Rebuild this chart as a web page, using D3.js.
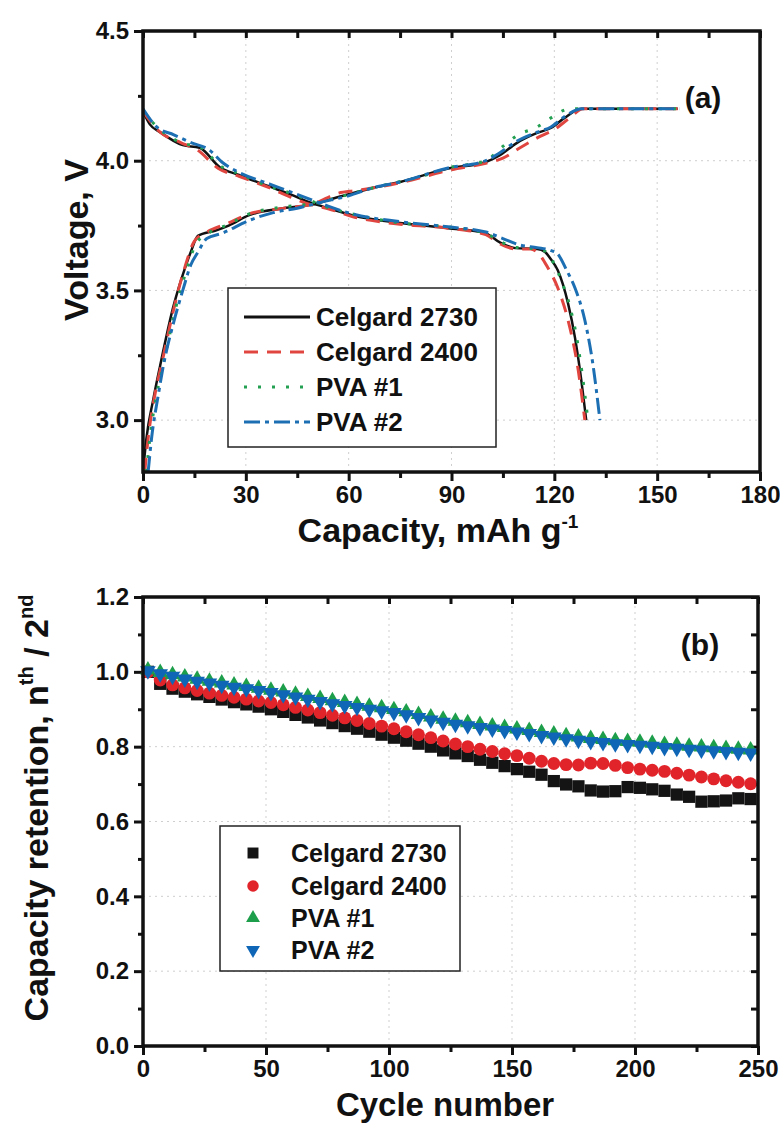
<!DOCTYPE html>
<html lang="en">
<head>
<meta charset="UTF-8">
<title>Charge/discharge curves and capacity retention</title>
<script src="https://d3js.org/d3.v7.min.js"></script>
<style>
  body { margin: 0; background: #fff; }
  svg { display: block; font-family: "Liberation Sans", Arial, sans-serif; font-weight: bold; }
  .frame { fill: none; stroke: #111; stroke-width: 3.5; }
  .grid line { stroke: #cfcfcf; stroke-width: 1; stroke-dasharray: 2,4; }
  .axis path { display: none; }
  .axis line { stroke: #111; stroke-width: 3; }
  .axis text { fill: #111; font-weight: bold; }
  .legend-box { fill: #fff; stroke: #222; stroke-width: 1.5; }
</style>
</head>
<body>
<div id="chart"></div>
<script>
// ---------- panel (a): [capacity mAh/g, voltage V] ----------
const c2730Charge = [[0,2.8],[1,2.93],[3,3.08],[5,3.21],[8.7,3.43],[11.6,3.56],[14,3.65],[16,3.71],[21,3.73],[25,3.75],[31,3.79],[40,3.815],[49,3.83],[57,3.86],[67,3.895],[75,3.918],[89,3.97],[100,3.995],[104,4.02],[109,4.068],[115,4.107],[119,4.126],[123,4.165],[128,4.2],[156,4.2]];
const c2730Discharge = [[0,4.19],[2,4.14],[5,4.11],[11.6,4.06],[16.5,4.05],[22.4,3.975],[28,3.945],[37,3.9],[43,3.87],[48.5,3.84],[53.4,3.82],[61,3.79],[75,3.76],[89,3.74],[100,3.72],[104,3.686],[108.6,3.663],[115,3.66],[117.3,3.648],[119,3.62],[121,3.578],[124,3.45],[126,3.32],[127.5,3.19],[129.3,3.0]];

const c2400Charge = [[0.5,2.8],[1.5,2.93],[3.5,3.1],[5.5,3.22],[9,3.43],[12,3.58],[15,3.69],[18,3.72],[25,3.76],[31,3.795],[40,3.815],[50,3.835],[57,3.875],[62,3.885],[67,3.895],[75,3.915],[90,3.965],[100,3.99],[105,4.01],[110,4.05],[116,4.095],[120,4.12],[124,4.16],[128.5,4.2],[156,4.2]];
const c2400Discharge = [[0,4.19],[5,4.11],[11,4.07],[16,4.04],[22,3.97],[28,3.94],[37,3.895],[43,3.86],[49,3.83],[54,3.815],[61,3.785],[75,3.755],[89,3.74],[100,3.715],[104,3.68],[109,3.66],[113,3.66],[115.3,3.644],[118,3.59],[121,3.51],[124,3.385],[127,3.19],[128.9,3.0]];

const pva1Charge = [[1,2.8],[2,2.93],[4,3.1],[6,3.22],[9.5,3.43],[12.5,3.57],[15.5,3.68],[19,3.72],[25,3.755],[31,3.795],[40,3.82],[50,3.835],[60,3.87],[70,3.905],[80,3.935],[90,3.975],[100,4.0],[104.5,4.05],[109.5,4.1],[115,4.13],[119,4.165],[124.5,4.2],[156,4.2]];
const pva1Discharge = [[0,4.19],[5,4.12],[11,4.07],[17,4.05],[22.5,3.98],[28,3.95],[37,3.9],[43,3.875],[49,3.845],[54,3.82],[61,3.795],[75,3.76],[89,3.745],[100,3.72],[104,3.69],[109,3.665],[115,3.66],[118,3.645],[120,3.6],[122,3.54],[124.5,3.44],[126.5,3.32],[128,3.19],[129.8,3.0]];

const pva2Charge = [[1.5,2.8],[2.5,2.93],[4.5,3.1],[5.8,3.2],[9,3.38],[11.6,3.5],[14,3.6],[16,3.647],[18.6,3.7],[23,3.72],[31,3.77],[38,3.8],[45,3.817],[52,3.84],[60,3.865],[67,3.895],[75,3.918],[89,3.972],[100,4.0],[104,4.03],[109,4.075],[115,4.11],[119,4.13],[123,4.17],[128,4.2],[156.5,4.2]];
const pva2Discharge = [[0,4.2],[4,4.13],[9,4.1],[14,4.07],[19.5,4.04],[23,3.995],[28,3.955],[37,3.91],[43,3.88],[49,3.85],[54,3.825],[61,3.795],[75,3.765],[89,3.745],[100,3.725],[105,3.7],[110,3.675],[115,3.665],[118.8,3.655],[121,3.64],[123.5,3.58],[126,3.51],[128.9,3.385],[131.2,3.22],[133.3,3.0]];

const capTicks = [0,30,60,90,120,150,180];
const voltTicks = [3.0,3.5,4.0,4.5];

// ---------- panel (b): capacity retention vs cycle ----------
const cycles = [2,7,12,17,22,27,32,37,42,47,52,57,62,67,72,77,82,87,92,97,102,107,112,117,122,127,132,137,142,147,152,157,162,167,172,177,182,187,192,197,202,207,212,217,222,227,232,237,242,247];
const ret2730 = [1.000,0.968,0.955,0.947,0.940,0.933,0.926,0.919,0.913,0.907,0.900,0.893,0.885,0.878,0.870,0.863,0.855,0.848,0.840,0.832,0.824,0.816,0.808,0.800,0.790,0.782,0.775,0.765,0.757,0.748,0.740,0.733,0.725,0.708,0.699,0.694,0.683,0.680,0.681,0.692,0.690,0.686,0.682,0.672,0.666,0.653,0.654,0.656,0.662,0.660];
const ret2400 = [1.000,0.978,0.965,0.957,0.950,0.943,0.937,0.932,0.927,0.922,0.918,0.912,0.905,0.898,0.891,0.884,0.877,0.870,0.862,0.855,0.848,0.840,0.832,0.824,0.815,0.807,0.800,0.793,0.787,0.781,0.776,0.769,0.761,0.755,0.752,0.751,0.756,0.755,0.750,0.744,0.740,0.737,0.734,0.729,0.724,0.719,0.714,0.709,0.705,0.701];
const retPva1 = [1.005,0.998,0.992,0.986,0.980,0.975,0.970,0.965,0.961,0.956,0.951,0.946,0.940,0.934,0.929,0.923,0.918,0.913,0.908,0.904,0.899,0.893,0.886,0.879,0.873,0.868,0.864,0.859,0.855,0.851,0.847,0.843,0.838,0.834,0.829,0.826,0.822,0.819,0.816,0.814,0.812,0.809,0.806,0.804,0.801,0.799,0.797,0.795,0.793,0.791];
const retPva2 = [1.003,0.995,0.988,0.981,0.975,0.970,0.964,0.959,0.955,0.950,0.945,0.939,0.933,0.927,0.921,0.915,0.910,0.905,0.900,0.896,0.891,0.885,0.878,0.871,0.865,0.860,0.856,0.851,0.847,0.843,0.839,0.835,0.830,0.826,0.821,0.817,0.814,0.811,0.808,0.806,0.804,0.801,0.798,0.796,0.793,0.791,0.789,0.787,0.785,0.783];

const cycleTicks = [0,50,100,150,200,250];
const retTicks = [0.0,0.2,0.4,0.6,0.8,1.0,1.2];

const seriesNames = ["Celgard 2730", "Celgard 2400", "PVA #1", "PVA #2"];

// ---------- setup ----------
const W = 780, H = 1128;
const svg = d3.select("#chart").append("svg").attr("width", W).attr("height", H);
svg.append("rect").attr("width", W).attr("height", H).attr("fill", "#fff");

function halfSteps(ticks) {
  const out = [];
  for (let i = 0; i < ticks.length - 1; i++) out.push((ticks[i] + ticks[i + 1]) / 2);
  return out;
}

function drawAxes(x, y, o) {
  const g = svg.append("g");
  const [x0, x1] = x.range(), [y0, y1] = y.range();
  const xMinor = halfSteps(o.xTicks), yMinor = halfSteps(o.yTicks);

  // dotted grid
  const grid = g.append("g").attr("class", "grid");
  grid.selectAll(".gx").data(o.xTicks.slice(1, -1)).enter().append("line")
    .attr("x1", d => x(d)).attr("x2", d => x(d)).attr("y1", y0).attr("y2", y1);
  grid.selectAll(".gy").data(o.yGrid).enter().append("line")
    .attr("y1", d => y(d)).attr("y2", d => y(d)).attr("x1", x0).attr("x2", x1);

  g.append("g").attr("class", "axis").attr("transform", `translate(0,${y0})`)
    .call(d3.axisBottom(x).tickValues(o.xTicks).tickSize(9).tickPadding(5).tickFormat(d3.format("d")))
    .selectAll("text").style("font-size", o.tickFont + "px");
  g.append("g").attr("class", "axis").attr("transform", `translate(0,${y0})`)
    .call(d3.axisBottom(x).tickValues(xMinor).tickSize(6).tickFormat(""));
  g.append("g").attr("class", "axis").attr("transform", `translate(${x0},0)`)
    .call(d3.axisLeft(y).tickValues(o.yTicks).tickSize(9).tickPadding(5).tickFormat(d3.format(".1f")))
    .selectAll("text").style("font-size", o.tickFont + "px");
  g.append("g").attr("class", "axis").attr("transform", `translate(${x0},0)`)
    .call(d3.axisLeft(y).tickValues(yMinor).tickSize(5).tickFormat(""));
  // inward ticks on top
  g.append("g").attr("class", "axis").attr("transform", `translate(0,${y1})`)
    .call(d3.axisTop(x).tickValues(o.xTicks.concat(xMinor)).tickSize(-7).tickFormat(""));
  if (o.rightTicks) {
    g.append("g").attr("class", "axis").attr("transform", `translate(${x1},0)`)
      .call(d3.axisRight(y).tickValues(o.yTicks.concat(yMinor)).tickSize(-7).tickFormat(""));
  }
  return g;
}

function drawFrame(x, y) {
  const [x0, x1] = x.range(), [y0, y1] = y.range();
  svg.append("rect").attr("class", "frame")
    .attr("x", x0).attr("y", y1).attr("width", x1 - x0).attr("height", y0 - y1);
}

// ---------- panel (a) ----------
const xa = d3.scaleLinear().domain([0, 180]).range([143, 760]);
const ya = d3.scaleLinear().domain([2.8, 4.5]).range([472, 31]);

drawAxes(xa, ya, { xTicks: capTicks, yTicks: voltTicks, yGrid: [3.0, 3.5, 4.0], tickFont: 24, rightTicks: false });

svg.append("clipPath").attr("id", "clipA").append("rect")
  .attr("x", 143).attr("y", 31).attr("width", 617).attr("height", 441);

const lineStyles = [
  { color: "#111111", dash: null, width: 2.5 },
  { color: "#e0463f", dash: "14,9", width: 3 },
  { color: "#23a052", dash: "3,11", width: 3 },
  { color: "#1d6fb3", dash: "16,5,4,5", width: 3 }
];
const curvesA = [
  [c2730Charge, c2730Discharge],
  [c2400Charge, c2400Discharge],
  [pva1Charge, pva1Discharge],
  [pva2Charge, pva2Discharge]
];

const lineA = d3.line().x(d => xa(d[0])).y(d => ya(d[1])).curve(d3.curveMonotoneX);
const curveG = svg.append("g").attr("clip-path", "url(#clipA)");
curvesA.forEach((pair, i) => {
  pair.forEach(data => {
    curveG.append("path").datum(data)
      .attr("d", lineA)
      .attr("fill", "none")
      .attr("stroke", lineStyles[i].color)
      .attr("stroke-width", lineStyles[i].width)
      .attr("stroke-dasharray", lineStyles[i].dash);
  });
});

drawFrame(xa, ya);

// legend (a)
const legA = svg.append("g");
legA.append("rect").attr("class", "legend-box").attr("x", 228).attr("y", 288).attr("width", 268).attr("height", 159);
const rowsA = [317, 352, 387, 422];
seriesNames.forEach((name, i) => {
  legA.append("line")
    .attr("x1", 244).attr("x2", 310).attr("y1", rowsA[i]).attr("y2", rowsA[i])
    .attr("stroke", lineStyles[i].color).attr("stroke-width", 3)
    .attr("stroke-dasharray", lineStyles[i].dash);
  legA.append("text").attr("x", 316).attr("y", rowsA[i] + 9)
    .style("font-size", "26px").attr("fill", "#111").text(name);
});

svg.append("text").attr("x", 703).attr("y", 108).attr("text-anchor", "middle")
  .style("font-size", "30px").attr("fill", "#111").text("(a)");

svg.append("text").attr("transform", "translate(88,240) rotate(-90)").attr("text-anchor", "middle")
  .style("font-size", "34px").attr("fill", "#111").text("Voltage, V");

const capTitle = svg.append("text").attr("x", 438).attr("y", 542).attr("text-anchor", "middle")
  .style("font-size", "34px").attr("fill", "#111");
capTitle.append("tspan").text("Capacity, mAh g");
capTitle.append("tspan").attr("dy", -14).style("font-size", "19px").text("-1");

// ---------- panel (b) ----------
const xb = d3.scaleLinear().domain([0, 250]).range([143, 758]);
const yb = d3.scaleLinear().domain([0, 1.2]).range([1046, 597]);

drawAxes(xb, yb, { xTicks: cycleTicks, yTicks: retTicks, yGrid: [0.2, 0.4, 0.6, 0.8, 1.0], tickFont: 24, rightTicks: true });

const markerStyles = [
  { color: "#141414", symbol: d3.symbolSquare, size: 150, rot: 0 },
  { color: "#e1242a", symbol: d3.symbolCircle, size: 130, rot: 0 },
  { color: "#1d9e4b", symbol: d3.symbolTriangle, size: 105, rot: 0 },
  { color: "#0f66b6", symbol: d3.symbolTriangle, size: 105, rot: 180 }
];
const seriesB = [ret2730, ret2400, retPva1, retPva2];

seriesB.forEach((vals, i) => {
  const st = markerStyles[i];
  const sym = d3.symbol().type(st.symbol).size(st.size);
  svg.append("g").selectAll("path").data(cycles).enter().append("path")
    .attr("d", sym)
    .attr("transform", (c, j) => `translate(${xb(c)},${yb(vals[j])}) rotate(${st.rot})`)
    .attr("fill", st.color);
});

drawFrame(xb, yb);

// legend (b)
const legB = svg.append("g");
legB.append("rect").attr("class", "legend-box").attr("x", 220).attr("y", 826).attr("width", 240).attr("height", 145);
const rowsB = [853, 886, 918, 950];
seriesNames.forEach((name, i) => {
  const st = markerStyles[i];
  legB.append("path")
    .attr("d", d3.symbol().type(st.symbol).size(st.size * 0.8))
    .attr("transform", `translate(253,${rowsB[i]}) rotate(${st.rot})`)
    .attr("fill", st.color);
  legB.append("text").attr("x", 291).attr("y", rowsB[i] + 9)
    .style("font-size", "25px").attr("fill", "#111").text(name);
});

svg.append("text").attr("x", 700).attr("y", 655).attr("text-anchor", "middle")
  .style("font-size", "30px").attr("fill", "#111").text("(b)");

const retTitle = svg.append("text").attr("transform", "translate(48,808) rotate(-90)").attr("text-anchor", "middle")
  .style("font-size", "34px").attr("fill", "#111");
retTitle.append("tspan").text("Capacity retention, n");
retTitle.append("tspan").attr("dy", -15).style("font-size", "20px").text("th");
retTitle.append("tspan").attr("dy", 15).text(" / 2");
retTitle.append("tspan").attr("dy", -15).style("font-size", "20px").text("nd");

svg.append("text").attr("x", 445).attr("y", 1116).attr("text-anchor", "middle")
  .style("font-size", "33px").attr("fill", "#111").text("Cycle number");
</script>
</body>
</html>
